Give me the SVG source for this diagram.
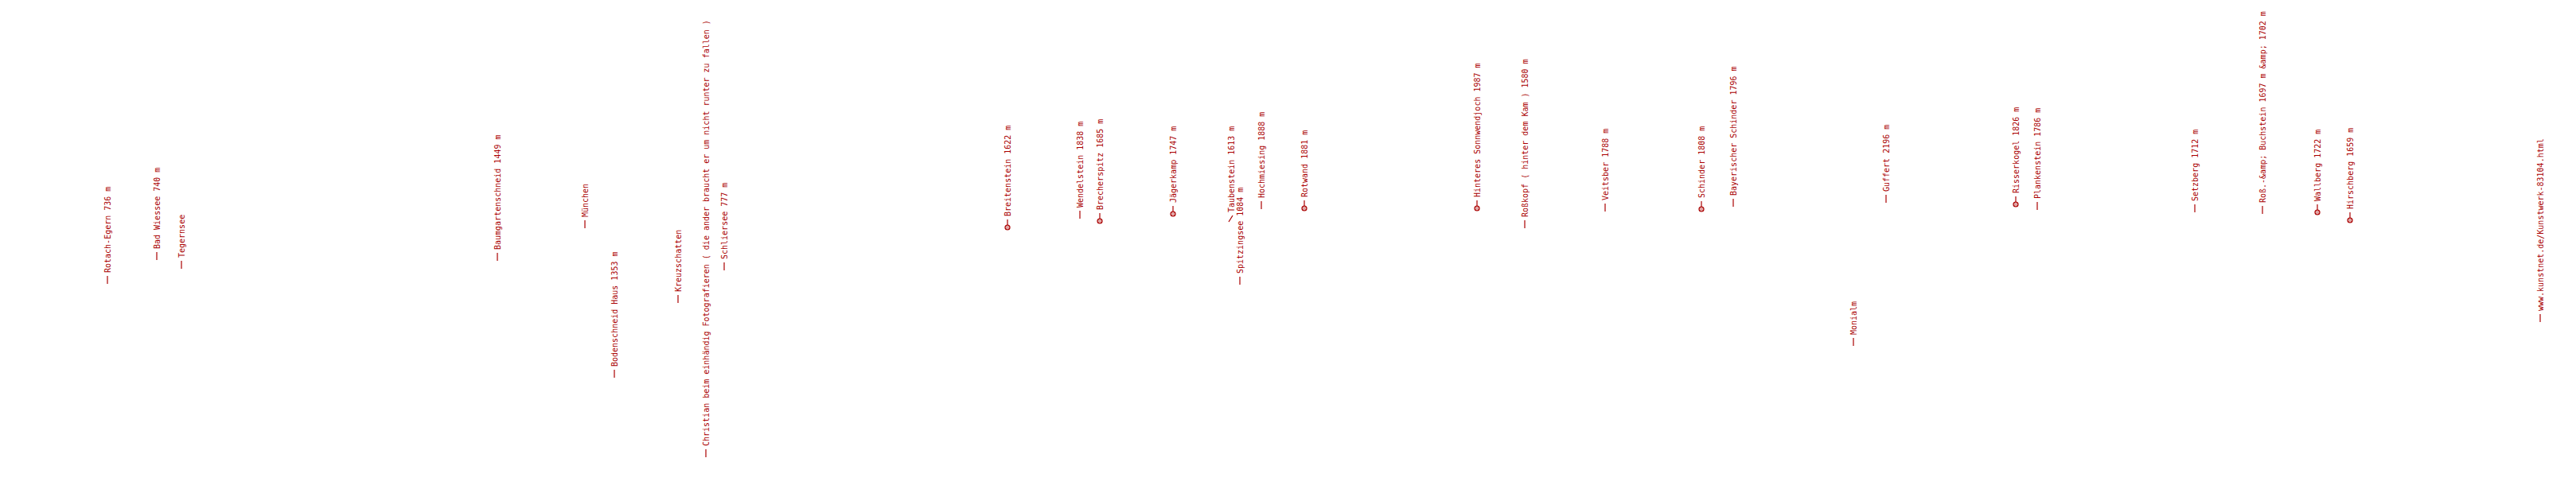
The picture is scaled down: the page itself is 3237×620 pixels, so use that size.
<svg xmlns="http://www.w3.org/2000/svg" width="3237" height="620" viewBox="0 0 3237 620">
<style>
.t{font-family:"DejaVu Sans Mono","Liberation Mono",monospace;font-size:10px;fill:#aa0000}
.d{stroke:#aa0000;stroke-width:1.2;fill:none}
.m{fill:#aa0000}
.mx{stroke:#ffffff;stroke-width:0.8}
</style>
<defs>
<g id="mk"><circle class="m" r="3.6"/><path class="mx" d="M-2.2,0H2.2M0,-2.2V2.2"/><circle r="1.9" fill="none" stroke="#ffffff" stroke-width="0.6"/></g>
</defs>
<rect width="3237" height="620" fill="#ffffff"/>
<g id="labels">
<g id="n1" transform="translate(135,357) rotate(-90)"><path class="d" d="M0,0H10"/><text class="t" x="14" y="4">Rotach-Egern 736 m</text></g>
<g id="n2" transform="translate(197,327) rotate(-90)"><path class="d" d="M0,0H10"/><text class="t" x="14" y="4">Bad Wiessee 740 m</text></g>
<g id="n3" transform="translate(228,338) rotate(-90)"><path class="d" d="M0,0H10"/><text class="t" x="14" y="4">Tegernsee</text></g>
<g id="n4" transform="translate(625,328) rotate(-90)"><path class="d" d="M0,0H10"/><text class="t" x="14" y="4">Baumgartenschneid 1449 m</text></g>
<g id="n5" transform="translate(735,287) rotate(-90)"><path class="d" d="M0,0H10"/><text class="t" x="14" y="4">München</text></g>
<g id="n6" transform="translate(772,475) rotate(-90)"><path class="d" d="M0,0H10"/><text class="t" x="14" y="4">Bodenschneid Haus 1353 m</text></g>
<g id="n7" transform="translate(852,381) rotate(-90)"><path class="d" d="M0,0H10"/><text class="t" x="14" y="4">Kreuzschatten</text></g>
<g id="n8" transform="translate(887,575) rotate(-90)"><path class="d" d="M0,0H10"/><text class="t" x="14" y="4">Christian beim einhändig Fotografieren ( die ander braucht er um nicht runter zu fallen )</text></g>
<g id="n9" transform="translate(910,340) rotate(-90)"><path class="d" d="M0,0H10"/><text class="t" x="14" y="4">Schliersee 777 m</text></g>
<g id="n10" transform="translate(1266,286) rotate(-90)"><path class="d" d="M0,0H10"/><use href="#mk"/><text class="t" x="14" y="4">Breitenstein 1622 m</text></g>
<g id="n11" transform="translate(1357,275) rotate(-90)"><path class="d" d="M0,0H10"/><text class="t" x="14" y="4">Wendelstein 1838 m</text></g>
<g id="n12" transform="translate(1382,278) rotate(-90)"><path class="d" d="M0,0H10"/><use href="#mk"/><text class="t" x="14" y="4">Brecherspitz 1685 m</text></g>
<g id="n13" transform="translate(1474,269) rotate(-90)"><path class="d" d="M0,0H10"/><use href="#mk"/><text class="t" x="14" y="4">Jägerkamp 1747 m</text></g>
<g id="n14" transform="translate(1558,358) rotate(-90)"><path class="d" d="M0,0H10"/><text class="t" x="14" y="4">Spitzingsee 1084 m</text></g>
<g id="n15"><path class="d" d="M1544,279L1549,271"/><text class="t" transform="translate(1551,267) rotate(-90)" x="0" y="0">Taubenstein 1613 m</text></g>
<g id="n16" transform="translate(1585,263) rotate(-90)"><path class="d" d="M0,0H10"/><text class="t" x="14" y="4">Hochmiesing 1888 m</text></g>
<g id="n17" transform="translate(1639,262) rotate(-90)"><path class="d" d="M0,0H10"/><use href="#mk"/><text class="t" x="14" y="4">Rotwand 1881 m</text></g>
<g id="n18" transform="translate(1856,262) rotate(-90)"><path class="d" d="M0,0H10"/><use href="#mk"/><text class="t" x="14" y="4">Hinteres Sonnwendjoch 1987 m</text></g>
<g id="n19" transform="translate(1916,287) rotate(-90)"><path class="d" d="M0,0H10"/><text class="t" x="14" y="4">Roßkopf ( hinter dem Kam ) 1580 m</text></g>
<g id="n20" transform="translate(2017,266) rotate(-90)"><path class="d" d="M0,0H10"/><text class="t" x="14" y="4">Veitsber 1788 m</text></g>
<g id="n21" transform="translate(2138,263) rotate(-90)"><path class="d" d="M0,0H10"/><use href="#mk"/><text class="t" x="14" y="4">Schinder 1808 m</text></g>
<g id="n22" transform="translate(2178,260) rotate(-90)"><path class="d" d="M0,0H10"/><text class="t" x="14" y="4">Bayerischer Schinder 1796 m</text></g>
<g id="n23" transform="translate(2370,255) rotate(-90)"><path class="d" d="M0,0H10"/><text class="t" x="14" y="4">Guffert 2196 m</text></g>
<g id="n24" transform="translate(2329,435) rotate(-90)"><path class="d" d="M0,0H10"/><text class="t" x="14" y="4">Monialm</text></g>
<g id="n25" transform="translate(2533,257) rotate(-90)"><path class="d" d="M0,0H10"/><use href="#mk"/><text class="t" x="14" y="4">Risserkogel 1826 m</text></g>
<g id="n26" transform="translate(2560,264) rotate(-90)"><path class="d" d="M0,0H10"/><text class="t" x="14" y="4">Plankenstein 1786 m</text></g>
<g id="n27" transform="translate(2758,267) rotate(-90)"><path class="d" d="M0,0H10"/><text class="t" x="14" y="4">Setzberg 1712 m</text></g>
<g id="n28" transform="translate(2843,269) rotate(-90)"><path class="d" d="M0,0H10"/><text class="t" x="14" y="4">Roß.-&amp;amp; Buchstein 1697 m &amp;amp; 1702 m</text></g>
<g id="n29" transform="translate(2912,267) rotate(-90)"><path class="d" d="M0,0H10"/><use href="#mk"/><text class="t" x="14" y="4">Wallberg 1722 m</text></g>
<g id="n30" transform="translate(2953,277) rotate(-90)"><path class="d" d="M0,0H10"/><use href="#mk"/><text class="t" x="14" y="4">Hirschberg 1659 m</text></g>
<g id="n31" transform="translate(3192,405) rotate(-90)"><path class="d" d="M0,0H10"/><text class="t" x="14" y="4">www.kunstnet.de/Kunstwerk-83104.html</text></g>
</g>
<g id="connectors"></g>
</svg>
